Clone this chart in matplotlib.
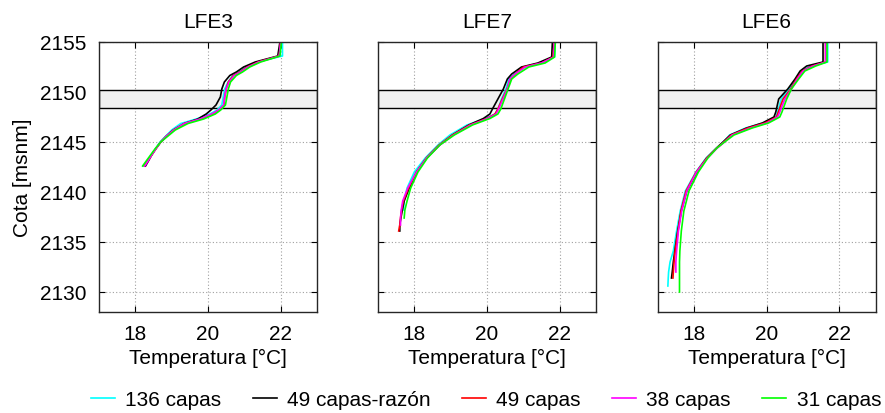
import matplotlib
matplotlib.use("Agg")
import matplotlib.pyplot as plt
import numpy as np

plt.rcParams['font.family'] = ['Liberation Sans', 'DejaVu Sans']

# ---------------- data ----------------
series_labels = ["136 capas", "49 capas-razón", "49 capas", "38 capas", "31 capas"]
series_colors = ["#00ffff", "#000000", "#ff0000", "#ff00ff", "#00ff00"]
panel_titles = ["LFE3", "LFE7", "LFE6"]

# LFE3
z_lfe3 = [2155.0, 2153.6, 2153.0, 2152.5, 2152.0, 2151.65, 2151.0, 2150.3, 2149.5, 2148.7,
          2148.2, 2147.8, 2147.3, 2146.85, 2146.2, 2145.6, 2145.0, 2144.3, 2143.7, 2143.1, 2142.6]
t_lfe3_136 = [22.05, 22.05, 21.35, 21.05, 20.85, 20.68, 20.55, 20.46, 20.42, 20.38, 20.25,
              20.05, 19.68, 19.25, 19.0, 18.84, 18.68, 18.55, 18.44, 18.32, 18.22]
t_lfe3_49r = [21.98, 21.92, 21.3, 20.98, 20.78, 20.6, 20.45, 20.38, 20.34, 20.22, 20.08,
              19.95, 19.72, 19.35, 19.05, 18.86, 18.7, 18.56, 18.45, 18.36, 18.28]
t_lfe3_49 = [22.0, 21.96, 21.38, 21.08, 20.88, 20.7, 20.56, 20.5, 20.46, 20.44, 20.3,
             20.12, 19.8, 19.35, 19.05, 18.86, 18.7, 18.56, 18.45, 18.34, 18.25]
t_lfe3_38 = [22.0, 21.96, 21.4, 21.1, 20.9, 20.72, 20.58, 20.5, 20.46, 20.43, 20.3,
             20.1, 19.78, 19.35, 19.06, 18.86, 18.7, 18.56, 18.45, 18.35, 18.26]
t_lfe3_31 = [22.02, 21.98, 21.45, 21.15, 20.95, 20.78, 20.62, 20.56, 20.52, 20.48, 20.35,
             20.2, 19.88, 19.45, 19.1, 18.9, 18.7, 18.54, 18.42, 18.3, 18.2]

# LFE7
z_lfe7 = [2155.0, 2153.5, 2152.9, 2152.5, 2151.8, 2151.3, 2150.3, 2149.3, 2148.3, 2147.8, 2147.35,
          2146.7, 2145.7, 2144.7, 2143.4, 2142.0, 2140.4, 2139.1, 2138.2, 2137.4, 2136.7, 2136.1]
t_lfe7_136 = [21.88, 21.86, 21.48, 21.05, 20.75, 20.6, 20.52, 20.4, 20.3, 20.22, 19.95,
              19.45, 18.98, 18.65, 18.3, 18.0, 17.8, 17.72, 17.7]
t_lfe7_49r = [21.8, 21.78, 21.4, 20.95, 20.68, 20.56, 20.45, 20.3, 20.15, 20.08, 19.9,
              19.5, 19.05, 18.7, 18.34, 18.06, 17.86, 17.72, 17.67, 17.63, 17.6, 17.6]
t_lfe7_49 = [21.85, 21.82, 21.5, 21.0, 20.78, 20.64, 20.55, 20.42, 20.3, 20.22, 20.0,
             19.52, 19.05, 18.68, 18.33, 18.06, 17.84, 17.7, 17.65, 17.62, 17.6, 17.57]
t_lfe7_38 = [21.85, 21.84, 21.5, 21.05, 20.78, 20.63, 20.56, 20.44, 20.32, 20.25, 20.02,
             19.55, 19.08, 18.7, 18.34, 18.06, 17.82, 17.68, 17.64, 17.62, 17.62]
t_lfe7_31 = [21.88, 21.86, 21.6, 21.15, 20.85, 20.68, 20.58, 20.48, 20.38, 20.3, 20.08,
             19.6, 19.1, 18.7, 18.36, 18.1, 17.9, 17.8, 17.74, 17.72]

# LFE6
z_lfe6 = [2155.0, 2153.0, 2152.6, 2152.1, 2151.3, 2150.3, 2149.3, 2148.0, 2147.5, 2146.9, 2146.4,
          2145.7, 2145.0, 2144.4, 2143.4, 2142.0, 2140.1, 2138.1, 2136.1, 2134.1, 2133.0,
          2132.0, 2131.4, 2130.6, 2130.0]
t_lfe6_136 = [21.68, 21.68, 21.2, 20.95, 20.8, 20.62, 20.4, 20.3, 20.25, 19.9, 19.42, 18.98,
              18.8, 18.62, 18.33, 18.05, 17.76, 17.62, 17.52, 17.43, 17.34, 17.3, 17.29, 17.28]
t_lfe6_49r = [21.55, 21.55, 21.1, 20.92, 20.78, 20.58, 20.33, 20.25, 20.2, 19.88, 19.45, 19.0,
              18.8, 18.62, 18.35, 18.08, 17.8, 17.65, 17.55, 17.47, 17.43, 17.4, 17.38]
t_lfe6_49 = [21.62, 21.62, 21.25, 20.98, 20.82, 20.66, 20.45, 20.32, 20.27, 19.95, 19.48, 19.02,
             18.82, 18.63, 18.35, 18.06, 17.78, 17.64, 17.56, 17.48, 17.45, 17.43, 17.42]
t_lfe6_38 = [21.62, 21.62, 21.28, 21.0, 20.84, 20.68, 20.5, 20.36, 20.3, 20.0, 19.55, 19.05,
             18.84, 18.64, 18.37, 18.07, 17.8, 17.66, 17.57, 17.52, 17.5, 17.5]
t_lfe6_31 = [21.66, 21.66, 21.35, 21.05, 20.88, 20.68, 20.55, 20.42, 20.36, 20.05, 19.6, 19.1,
             18.84, 18.63, 18.38, 18.12, 17.86, 17.72, 17.65, 17.61, 17.6, 17.6, 17.6, 17.6, 17.6]

band_low, band_high = 2148.4, 2150.2
x_ticks = [18, 20, 22]
y_ticks = [2130, 2135, 2140, 2145, 2150, 2155]

panels = [
    (z_lfe3, [t_lfe3_136, t_lfe3_49r, t_lfe3_49, t_lfe3_38, t_lfe3_31]),
    (z_lfe7, [t_lfe7_136, t_lfe7_49r, t_lfe7_49, t_lfe7_38, t_lfe7_31]),
    (z_lfe6, [t_lfe6_136, t_lfe6_49r, t_lfe6_49, t_lfe6_38, t_lfe6_31]),
]

# ---------------- figure ----------------
W, H = 885, 414
fig = plt.figure(figsize=(W / 100, H / 100), dpi=100)
lefts = [99, 378, 657.7]
ax_w, ax_top, ax_bot = 218, 43, 313
fs = 15

handles = []
for i, (left, (z, temps)) in enumerate(zip(lefts, panels)):
    ax = fig.add_axes([left / W, (H - ax_bot) / H, ax_w / W, (ax_bot - ax_top) / H])
    ax.set_axisbelow(True)
    ax.axhspan(band_low, band_high, facecolor="#f0f0f0", edgecolor="#000000", lw=1.0, zorder=1.5)
    for t, c, lab in zip(temps, series_colors, series_labels):
        ln, = ax.plot(t, z[:len(t)], color=c, lw=1.2, label=lab, zorder=2)
        if i == 0:
            handles.append(ln)
    ax.set_xlim(17, 23)
    ax.set_ylim(2128, 2155)
    ax.set_xticks(x_ticks)
    ax.set_yticks(y_ticks)
    ax.grid(True, linestyle=(0, (1, 2)), color="#a0a0a0", lw=0.8)
    ax.tick_params(direction="in", length=4, width=0.8, top=True, right=True,
                   labelsize=fs, pad=9, colors="#000000")
    for sp in ax.spines.values():
        sp.set_color("#262626")
        sp.set_linewidth(1.0)
    ax.set_title(panel_titles[i], fontsize=fs, pad=11)
    ax.set_xlabel("Temperatura [°C]", fontsize=fs, labelpad=3)
    if i == 0:
        ax.set_ylabel("Cota [msnm]", fontsize=fs, labelpad=6)
    else:
        ax.set_yticklabels([])

fig.legend(handles=handles, labels=series_labels, loc="center left",
           bbox_to_anchor=(91 / W, 0.032), ncol=5, frameon=False, fontsize=fs,
           handlelength=1.15, handletextpad=0.5, columnspacing=1.5, borderpad=0,
           borderaxespad=0)

fig.savefig("out.png", dpi=100)
